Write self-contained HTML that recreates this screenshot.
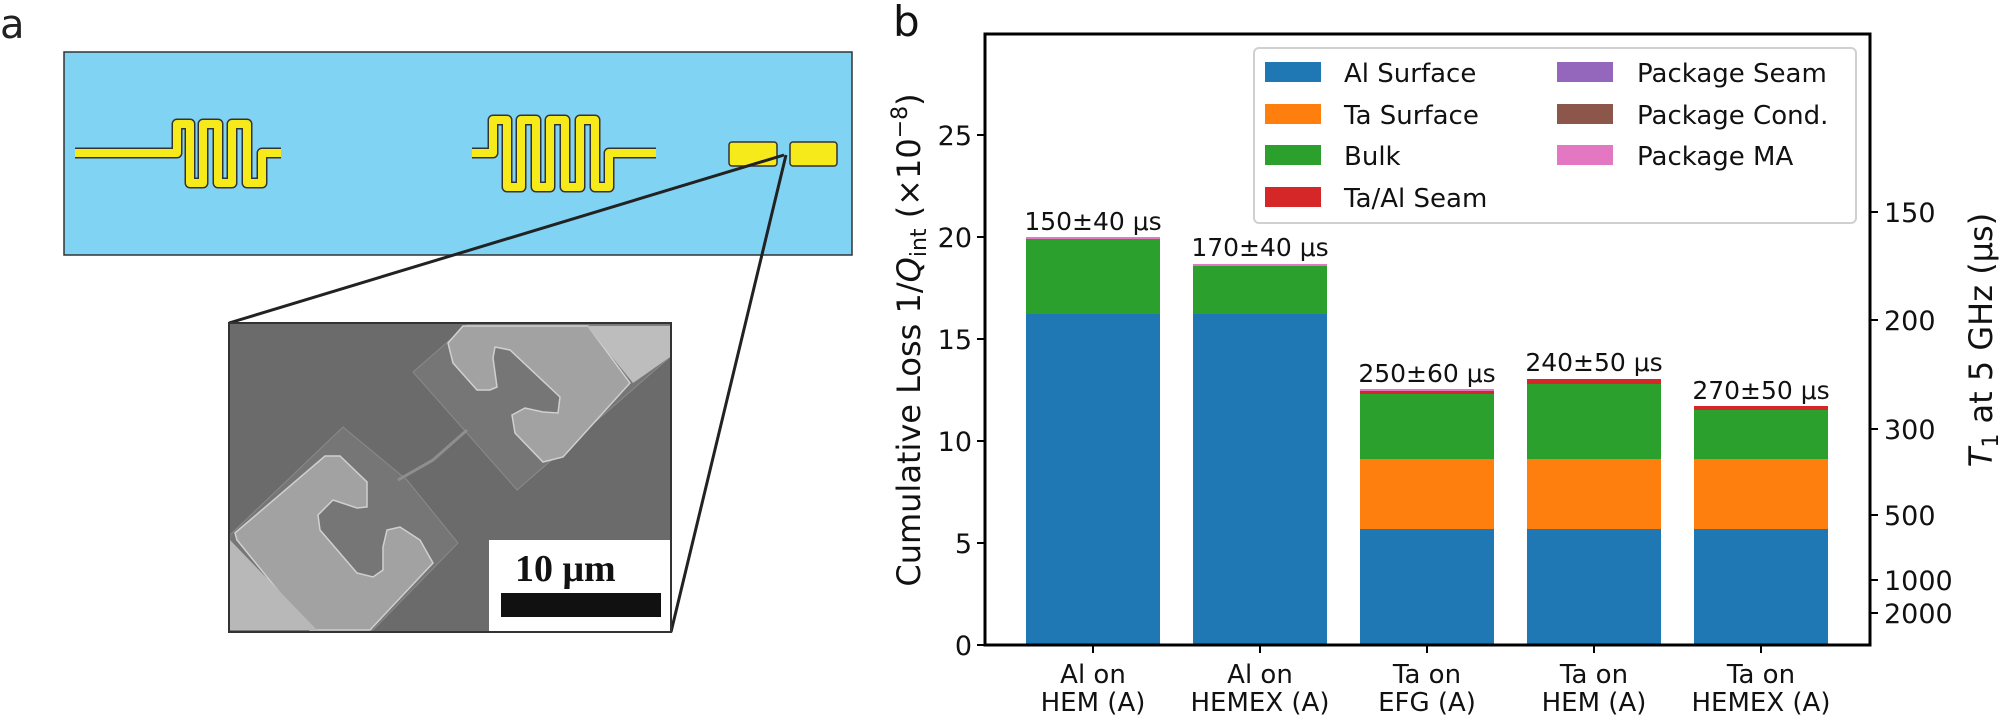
<!DOCTYPE html>
<html><head><meta charset="utf-8"><style>
html,body{margin:0;padding:0;background:#fff;}
svg{display:block;}
text{font-family:"DejaVu Sans","Liberation Sans",sans-serif;}
</style></head><body>
<svg width="2000" height="717" viewBox="0 0 2000 717" xmlns="http://www.w3.org/2000/svg">
<!-- Panel a -->
<text x="0" y="38" font-size="40" fill="#222">a</text>
<rect x="64" y="52" width="788" height="203" fill="#80d3f3" stroke="#333" stroke-width="1.5"/>
<g fill="none" stroke-linejoin="round" stroke-linecap="butt">
<path d="M75 153 H177 V124 H190 V183 H203 V124 H218 V183 H232 V124 H247 V183 H262 V153 H281" stroke="#333" stroke-width="11"/>
<path d="M75 153 H177 V124 H190 V183 H203 V124 H218 V183 H232 V124 H247 V183 H262 V153 H281" stroke="#f7ea1b" stroke-width="8"/>
<path d="M472 153 H493 V120 H507 V187 H521 V120 H536 V187 H550 V120 H565 V187 H580 V120 H595 V187 H609 V153 H656" stroke="#333" stroke-width="11"/>
<path d="M472 153 H493 V120 H507 V187 H521 V120 H536 V187 H550 V120 H565 V187 H580 V120 H595 V187 H609 V153 H656" stroke="#f7ea1b" stroke-width="8"/>
</g>
<rect x="729" y="142" width="48" height="24" rx="3" fill="#f7ea1b" stroke="#333" stroke-width="1.5"/>
<rect x="790" y="142" width="47" height="24" rx="3" fill="#f7ea1b" stroke="#333" stroke-width="1.5"/>
<line x1="229" y1="323" x2="784" y2="155" stroke="#222" stroke-width="3"/>
<line x1="671" y1="632" x2="786" y2="155" stroke="#222" stroke-width="3"/>
<!-- SEM -->
<svg x="229" y="323" width="442" height="309" viewBox="0 0 442 309">
<rect width="442" height="309" fill="#6b6b6b"/>
<polygon points="184,49 238,2 441,2 441,34 288,167" fill="#767676" stroke="#8a8a8a" stroke-width="1"/>
<polygon points="114,104 178,157 229,220 144,307 1,307 1,212" fill="#767676" stroke="#8a8a8a" stroke-width="1"/>
<polyline points="169,157 204,137 238,107" fill="none" stroke="#8e8e8e" stroke-width="3"/>
<polygon points="219,20 234,3 359,3 401,60 334,134 314,139 286,110 283,92 296,85 314,89 329,90 331,74 281,27 266,24 264,35 268,64 261,67 248,67 224,40" fill="#a2a2a2" stroke="#d0d0d0" stroke-width="1.5"/>
<polygon points="358,3 441,3 441,34 404,60" fill="#bdbdbd"/>
<polygon points="6,210 96,133 111,133 138,159 138,184 128,185 104,177 89,192 91,207 128,250 144,254 154,247 154,224 158,207 171,204 191,217 204,240 141,307 81,307 8,217" fill="#a2a2a2" stroke="#d0d0d0" stroke-width="1.5"/>
<polygon points="1,217 1,307 88,307" fill="#b8b8b8"/>
<rect x="260" y="217" width="182" height="92" fill="#fff"/>
<text x="286" y="258" style="font-family:'Liberation Serif','DejaVu Serif',serif;font-weight:bold;font-size:38px" fill="#111">10 μm</text>
<rect x="272" y="270" width="160" height="24" fill="#111"/>
</svg>
<rect x="229" y="323" width="442" height="309" fill="none" stroke="#333" stroke-width="2"/>

<!-- Panel b -->
<text x="893" y="36" font-size="42" fill="#111">b</text>
<g>
<rect x="1026" y="314" width="134" height="331" fill="#1f77b4"/>
<rect x="1026" y="239" width="134" height="75" fill="#2ca02c"/>
<rect x="1026" y="237" width="134" height="2" fill="#e377c2"/>
<rect x="1193" y="314" width="134" height="331" fill="#1f77b4"/>
<rect x="1193" y="266" width="134" height="48" fill="#2ca02c"/>
<rect x="1193" y="264" width="134" height="2" fill="#e377c2"/>
<rect x="1360" y="529" width="134" height="116" fill="#1f77b4"/>
<rect x="1360" y="459" width="134" height="70" fill="#ff7f0e"/>
<rect x="1360" y="394" width="134" height="65" fill="#2ca02c"/>
<rect x="1360" y="391" width="134" height="3" fill="#d62728"/>
<rect x="1360" y="389" width="134" height="2" fill="#e377c2"/>
<rect x="1527" y="529" width="134" height="116" fill="#1f77b4"/>
<rect x="1527" y="459" width="134" height="70" fill="#ff7f0e"/>
<rect x="1527" y="384" width="134" height="75" fill="#2ca02c"/>
<rect x="1527" y="379" width="134" height="5" fill="#d62728"/>
<rect x="1694" y="529" width="134" height="116" fill="#1f77b4"/>
<rect x="1694" y="459" width="134" height="70" fill="#ff7f0e"/>
<rect x="1694" y="410" width="134" height="49" fill="#2ca02c"/>
<rect x="1694" y="406" width="134" height="4" fill="#d62728"/>
</g>
<g font-size="25" fill="#111" text-anchor="middle">
<text x="1093" y="230">150±40 μs</text>
<text x="1260" y="256">170±40 μs</text>
<text x="1427" y="382">250±60 μs</text>
<text x="1594" y="371">240±50 μs</text>
<text x="1761" y="399">270±50 μs</text>
</g>
<rect x="985" y="34" width="885" height="611" fill="none" stroke="#000" stroke-width="3"/>
<g stroke="#000" stroke-width="2">
<line x1="977" y1="645" x2="985" y2="645"/><line x1="977" y1="543" x2="985" y2="543"/><line x1="977" y1="441" x2="985" y2="441"/><line x1="977" y1="339" x2="985" y2="339"/><line x1="977" y1="237" x2="985" y2="237"/><line x1="977" y1="135" x2="985" y2="135"/>
<line x1="1093" y1="645" x2="1093" y2="653"/><line x1="1260" y1="645" x2="1260" y2="653"/><line x1="1427" y1="645" x2="1427" y2="653"/><line x1="1594" y1="645" x2="1594" y2="653"/><line x1="1761" y1="645" x2="1761" y2="653"/>
<line x1="1870" y1="212" x2="1878" y2="212"/><line x1="1870" y1="320" x2="1878" y2="320"/><line x1="1870" y1="429" x2="1878" y2="429"/><line x1="1870" y1="515" x2="1878" y2="515"/><line x1="1870" y1="580" x2="1878" y2="580"/><line x1="1870" y1="613" x2="1878" y2="613"/>
</g>
<g font-size="27" fill="#111" text-anchor="end">
<text x="972" y="655">0</text><text x="972" y="553">5</text><text x="972" y="451">10</text><text x="972" y="349">15</text><text x="972" y="247">20</text><text x="972" y="145">25</text>
</g>
<g font-size="27" fill="#111">
<text x="1884" y="222">150</text><text x="1884" y="330">200</text><text x="1884" y="439">300</text><text x="1884" y="525">500</text><text x="1884" y="590">1000</text><text x="1884" y="623">2000</text>
</g>
<g font-size="26" fill="#111" text-anchor="middle">
<text x="1093" y="683">Al on</text><text x="1093" y="711">HEM (A)</text>
<text x="1260" y="683">Al on</text><text x="1260" y="711">HEMEX (A)</text>
<text x="1427" y="683">Ta on</text><text x="1427" y="711">EFG (A)</text>
<text x="1594" y="683">Ta on</text><text x="1594" y="711">HEM (A)</text>
<text x="1761" y="683">Ta on</text><text x="1761" y="711">HEMEX (A)</text>
</g>
<text transform="translate(920,340) rotate(-90)" font-size="32" fill="#111" text-anchor="middle">Cumulative Loss 1/<tspan font-style="italic">Q</tspan><tspan font-size="22" dy="6">int</tspan><tspan dy="-6"> (×10</tspan><tspan font-size="22" dy="-13">−8</tspan><tspan dy="13">)</tspan></text>
<text transform="translate(1992,340) rotate(-90)" font-size="32" fill="#111" text-anchor="middle"><tspan font-style="italic">T</tspan><tspan font-size="22" dy="6">1</tspan><tspan dy="-6"> at 5 GHz (μs)</tspan></text>
<rect x="1254" y="48" width="602" height="175" rx="5" fill="#fff" stroke="#d0d0d0" stroke-width="2"/>
<rect x="1265" y="62" width="56" height="20" fill="#1f77b4"/>
<rect x="1265" y="104" width="56" height="20" fill="#ff7f0e"/>
<rect x="1265" y="145" width="56" height="20" fill="#2ca02c"/>
<rect x="1265" y="187" width="56" height="20" fill="#d62728"/>
<rect x="1557" y="62" width="56" height="20" fill="#9467bd"/>
<rect x="1557" y="104" width="56" height="20" fill="#8c564b"/>
<rect x="1557" y="145" width="56" height="20" fill="#e377c2"/>
<g font-size="26" fill="#111">
<text x="1344" y="82">Al Surface</text><text x="1344" y="124">Ta Surface</text><text x="1344" y="165">Bulk</text><text x="1344" y="207">Ta/Al Seam</text>
<text x="1637" y="82">Package Seam</text><text x="1637" y="124">Package Cond.</text><text x="1637" y="165">Package MA</text>
</g>
</svg>
</body></html>
